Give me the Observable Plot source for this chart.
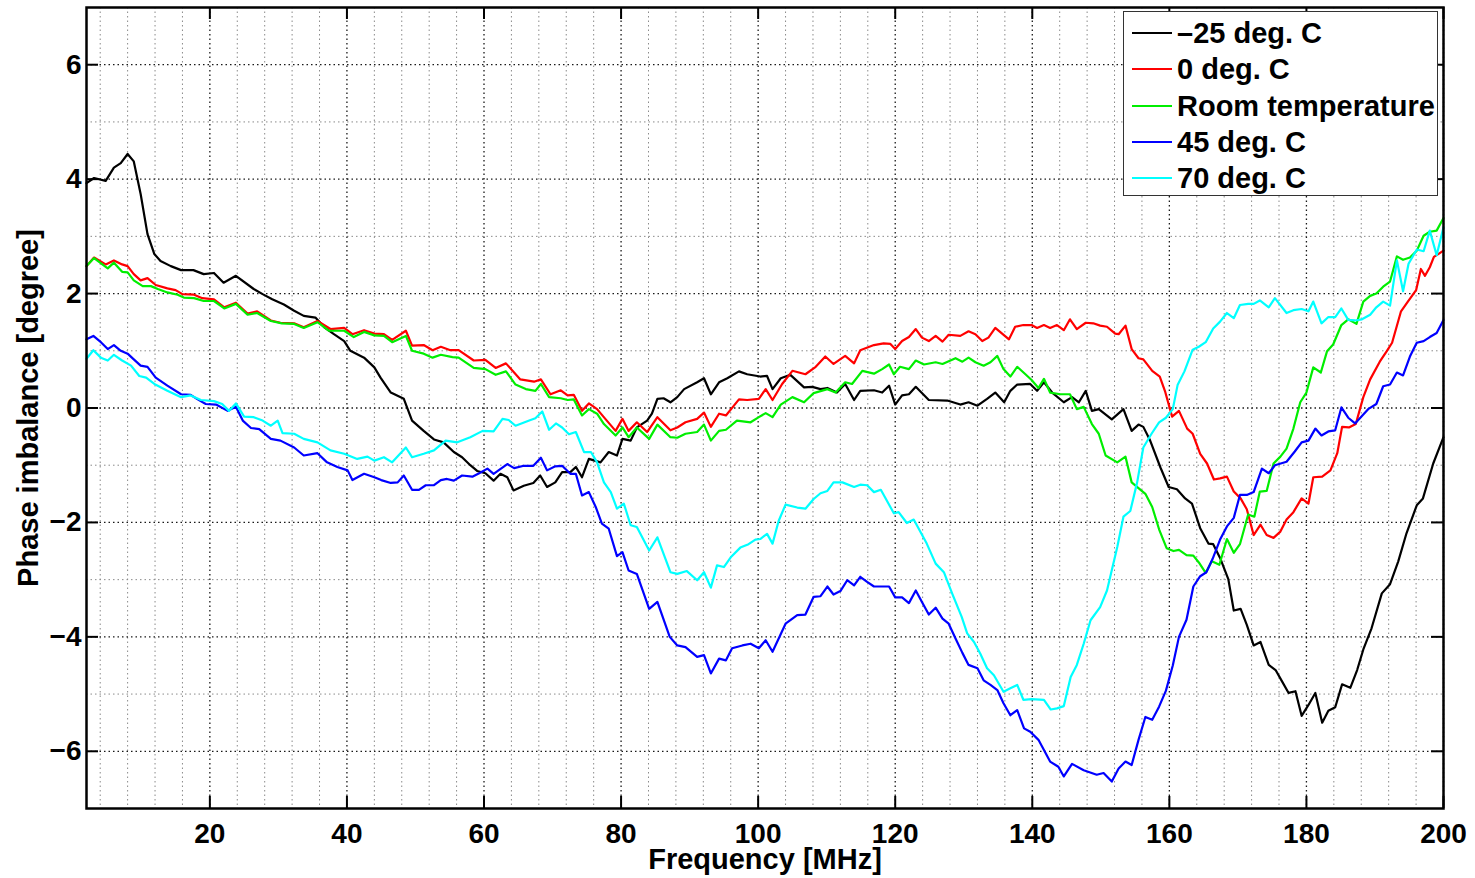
<!DOCTYPE html>
<html>
<head>
<meta charset="utf-8">
<script src="https://cdn.jsdelivr.net/npm/d3@7"></script>
<script src="https://cdn.jsdelivr.net/npm/@observablehq/plot@0.6"></script>
<style>
  body { margin: 0; background: #fff; }
  #wrap { position: relative; width: 1475px; height: 878px; }
  #legend {
    position: absolute; left: 1123px; top: 11px; width: 313px; height: 180px;
    padding-top: 3px; border: 1px solid #333; background: #fff;
    font: bold 29px "Liberation Sans", Arial, sans-serif; color: #000;
  }
  .row { display: flex; align-items: center; height: 36.3px; line-height: 36.3px; white-space: nowrap; }
  .swatch { margin-left: 8px; width: 40px; height: 0; border-top: 2px solid; margin-right: 5px; }
</style>
</head>
<body>
<div id="wrap"></div>
<script>
// ---- Data (frequency MHz, phase imbalance degree) ----
const seriesNames = ["–25 deg. C", "0 deg. C", "Room temperature", "45 deg. C", "70 deg. C"];
const seriesColors = ["#000000", "#ff0000", "#00ee00", "#0000ff", "#00ffff"];

const minus25 = [[2,3.93],[3.1,4.02],[4.8,3.97],[6,4.2],[7,4.28],[8,4.44],[8.9,4.31],[9.9,3.74],[10.9,3.04],[11.9,2.69],[12.8,2.57],[14.3,2.48],[15.8,2.41],[17.6,2.41],[19.1,2.34],[20.6,2.36],[22,2.19],[23.8,2.31],[26.4,2.08],[27.7,1.99],[29.1,1.9],[30.8,1.81],[32.3,1.7],[33.7,1.61],[35.4,1.58],[36.7,1.41],[38.1,1.29],[39.6,1.17],[40.5,1.0],[42.5,0.88],[44,0.71],[44.9,0.53],[46.4,0.27],[48.3,0.16],[49.5,-0.22],[51.2,-0.4],[52.7,-0.55],[54.1,-0.6],[55.6,-0.77],[56.8,-0.86],[58,-1.0],[59,-1.1],[60.2,-1.14],[61.4,-1.27],[62.4,-1.15],[63.4,-1.21],[64.3,-1.44],[65.8,-1.36],[67.2,-1.31],[68.2,-1.18],[69.2,-1.38],[70.4,-1.3],[71.4,-1.12],[72.6,-1.12],[73.4,-1.03],[74.3,-1.21],[75.3,-0.89],[77,-0.95],[78.2,-0.77],[79.4,-0.83],[80.2,-0.54],[81.4,-0.57],[82.3,-0.34],[83.8,-0.22],[84.5,-0.1],[85.3,0.16],[86.2,0.17],[87.2,0.1],[88.2,0.19],[89.2,0.33],[91.1,0.45],[92.1,0.52],[93.1,0.24],[94.3,0.45],[95.5,0.52],[97.2,0.64],[98.4,0.59],[100.3,0.55],[101.3,0.56],[102.1,0.33],[103.3,0.52],[104.7,0.58],[106.7,0.36],[107.9,0.37],[109.1,0.33],[110.1,0.35],[111.5,0.27],[112.7,0.42],[114,0.14],[114.9,0.3],[116.9,0.31],[118.1,0.27],[119.1,0.39],[120,0.06],[121,0.22],[122,0.24],[123,0.37],[124.9,0.14],[127.6,0.13],[129.5,0.06],[130.7,0.1],[132,0.04],[133.4,0.16],[134.6,0.27],[135.9,0.1],[136.8,0.3],[137.8,0.41],[139.7,0.42],[140.7,0.3],[141.7,0.45],[142.9,0.27],[144.6,0.1],[145.8,0.19],[146.8,0.1],[147.8,0.3],[148.7,-0.05],[149.7,-0.02],[151.6,-0.2],[153.3,-0.02],[154.5,-0.4],[155.5,-0.29],[156.2,-0.33],[157.2,-0.57],[158.7,-1.04],[159.9,-1.38],[161.1,-1.42],[162.3,-1.58],[163.3,-1.67],[164.5,-2.1],[165.7,-2.37],[166.4,-2.38],[167.4,-2.62],[168.6,-2.99],[169.4,-3.54],[170.4,-3.51],[171.3,-3.79],[172.3,-4.15],[173.3,-4.09],[174.5,-4.49],[175.5,-4.58],[176.4,-4.77],[177.4,-4.98],[178.4,-4.95],[179.3,-5.38],[180.3,-5.19],[181.3,-4.98],[182.3,-5.5],[183.2,-5.29],[184.2,-5.23],[185.2,-4.83],[186.4,-4.89],[187.4,-4.58],[188.3,-4.22],[189.5,-3.85],[191,-3.24],[192.2,-3.08],[193.4,-2.68],[194.6,-2.19],[196.1,-1.7],[197,-1.58],[198.5,-0.97],[200,-0.51]];

const zeroC = [[2,2.48],[3.1,2.63],[4.8,2.51],[6,2.58],[7.2,2.51],[8,2.48],[8.9,2.34],[9.9,2.23],[10.9,2.27],[12.1,2.15],[13.8,2.09],[15,2.06],[16,1.99],[17.7,1.98],[18.9,1.92],[20.6,1.9],[22.1,1.76],[23.8,1.84],[25.5,1.65],[26.9,1.69],[28.9,1.53],[30.3,1.49],[32.3,1.48],[33.7,1.41],[35.7,1.52],[37.6,1.38],[39.6,1.4],[40.8,1.29],[42.5,1.36],[44,1.3],[45.4,1.29],[46.6,1.19],[48.6,1.35],[49.5,1.09],[51.2,1.1],[52.5,1.01],[53.7,1.07],[55.1,1.01],[56.3,1.01],[58.5,0.83],[60.2,0.84],[61.7,0.7],[63.2,0.78],[65.3,0.5],[67.3,0.46],[68.3,0.5],[69.7,0.24],[71.2,0.31],[72.2,0.22],[73.1,0.23],[74.3,-0.05],[75.3,0.08],[76.5,-0.02],[77.7,-0.19],[79.2,-0.4],[80.2,-0.19],[81.1,-0.4],[82.3,-0.25],[83.8,-0.42],[85.3,-0.16],[87.2,-0.39],[88.2,-0.34],[89.4,-0.25],[91.1,-0.19],[92.1,-0.08],[93.1,-0.33],[94.3,-0.1],[95.3,-0.13],[97.2,0.15],[98.4,0.14],[100.1,0.16],[101.1,0.33],[102.1,0.14],[103.5,0.42],[105,0.65],[106.9,0.59],[108.4,0.72],[109.8,0.9],[111,0.77],[112.7,0.91],[114,0.78],[114.9,1.01],[116.9,1.1],[118.3,1.13],[119.3,1.12],[120,1.03],[121,1.17],[122,1.24],[123,1.38],[123.9,1.23],[124.9,1.17],[125.9,1.26],[126.9,1.16],[127.8,1.28],[129.5,1.26],[130.7,1.34],[131.7,1.29],[132.7,1.17],[133.6,1.23],[134.6,1.4],[135.6,1.3],[136.6,1.2],[137.5,1.42],[138.7,1.45],[139.9,1.45],[140.7,1.4],[141.7,1.45],[142.6,1.4],[143.6,1.45],[144.6,1.36],[145.5,1.55],[146.5,1.38],[147.8,1.49],[148.9,1.48],[149.9,1.44],[150.9,1.42],[152.1,1.3],[152.6,1.29],[153.6,1.44],[154.5,1.03],[155.5,0.87],[156.2,0.85],[157.5,0.65],[158.6,0.55],[159.4,0.28],[160.4,-0.15],[161.4,-0.05],[162.6,-0.36],[163.4,-0.45],[164.5,-0.8],[165.5,-0.97],[166.5,-1.25],[167.4,-1.23],[168.4,-1.2],[169.4,-1.46],[170.4,-1.58],[171.3,-1.77],[172.3,-2.22],[173.3,-2.04],[174.2,-2.22],[175.2,-2.27],[176.2,-2.16],[177.1,-1.95],[178.1,-1.82],[179.3,-1.58],[180.3,-1.67],[181,-1.21],[182.3,-1.2],[183.5,-1.09],[184.5,-0.79],[185.2,-0.33],[186.2,-0.34],[187.2,-0.28],[188.3,0.19],[189.3,0.5],[190.7,0.81],[191.7,0.99],[192.5,1.14],[193.8,1.69],[194.8,1.86],[196,2.06],[196.7,2.43],[197.3,2.31],[198,2.46],[198.6,2.64],[200,2.75]];

const roomTemp = [[2,2.48],[3.1,2.62],[5.1,2.44],[6,2.54],[7.2,2.38],[8,2.37],[8.9,2.23],[10.2,2.13],[11.4,2.13],[12.4,2.08],[13.8,2.02],[15.3,1.98],[16.2,1.93],[17.7,1.92],[19.1,1.87],[20.6,1.87],[22.1,1.74],[23.8,1.82],[25.5,1.63],[26.9,1.66],[28.9,1.52],[30.5,1.48],[32.3,1.47],[33.7,1.4],[35.7,1.5],[37.4,1.35],[39.6,1.35],[41,1.24],[42.5,1.33],[44,1.27],[45.4,1.26],[46.6,1.15],[48.6,1.26],[49.5,1.0],[51.2,0.95],[52.5,0.88],[53.7,0.93],[55.4,0.89],[56.3,0.88],[58.5,0.7],[60.2,0.68],[61.7,0.58],[63.2,0.64],[64.6,0.41],[66.1,0.33],[67.5,0.3],[68.3,0.42],[69.5,0.19],[71.2,0.17],[72.2,0.14],[73.1,0.15],[74.3,-0.13],[75.3,-0.02],[76.5,-0.1],[77.5,-0.28],[79.2,-0.48],[80.2,-0.34],[81.1,-0.51],[82.3,-0.34],[84.1,-0.54],[85.3,-0.29],[87.2,-0.51],[88.2,-0.52],[89.4,-0.45],[91.1,-0.42],[92.1,-0.29],[93.1,-0.57],[94.3,-0.4],[95.3,-0.38],[96.9,-0.22],[98.9,-0.25],[100.1,-0.16],[101.1,-0.09],[102.1,-0.16],[103.3,0.06],[105,0.19],[106.7,0.1],[108.1,0.26],[110.1,0.33],[111.3,0.27],[112.7,0.45],[113.7,0.42],[115.2,0.65],[116.9,0.6],[118.1,0.68],[119.1,0.76],[119.8,0.59],[120.7,0.72],[122,0.68],[123,0.83],[124.2,0.76],[125.9,0.8],[126.9,0.77],[128.8,0.87],[129.8,0.81],[130.7,0.88],[131.7,0.8],[132.9,0.74],[133.9,0.8],[134.9,0.91],[135.8,0.68],[136.8,0.55],[137.8,0.72],[139,0.59],[139.9,0.49],[140.9,0.35],[141.7,0.51],[142.6,0.27],[144.1,0.24],[145.5,0.24],[146.5,-0.02],[147.5,0.02],[148.7,-0.28],[149.7,-0.45],[150.7,-0.83],[152.4,-0.95],[153.6,-0.85],[154.5,-1.3],[155.8,-1.43],[156.5,-1.5],[157.5,-1.73],[158.5,-2.12],[159.6,-2.45],[160.6,-2.5],[161.4,-2.48],[162.5,-2.57],[163.5,-2.58],[164.3,-2.7],[165.3,-2.88],[166.2,-2.68],[167.3,-2.74],[168.4,-2.29],[169.4,-2.53],[170.3,-2.38],[171.5,-1.86],[172.4,-1.9],[173.2,-1.46],[174.2,-1.45],[175.2,-0.97],[176.2,-0.85],[177.1,-0.71],[178.1,-0.36],[179.1,0.1],[180,0.27],[181,0.71],[182.1,0.62],[183,0.99],[183.9,1.11],[185.1,1.45],[186.1,1.55],[187.3,1.47],[188.3,1.86],[189.3,1.96],[190.2,2.0],[191.2,2.12],[192.2,2.21],[193.2,2.65],[194.1,2.59],[195.1,2.63],[196.1,2.75],[197.1,3.01],[198,3.08],[199,3.1],[200,3.32]];

const deg45 = [[2,1.2],[3,1.26],[4.1,1.15],[5.1,1.03],[6,1.1],[7,1.0],[8,0.95],[8.9,0.85],[9.9,0.74],[10.9,0.72],[12.1,0.53],[13.8,0.39],[15.8,0.24],[17.2,0.23],[18.1,0.16],[19.4,0.07],[20.9,0.06],[22.6,-0.05],[23.8,0.02],[24.8,-0.22],[26,-0.35],[27.2,-0.37],[28.9,-0.54],[30.3,-0.57],[32.3,-0.69],[33.7,-0.83],[35.7,-0.79],[37.1,-0.95],[38.6,-1.03],[40.1,-1.09],[40.8,-1.26],[42.5,-1.15],[44,-1.21],[45,-1.26],[46.4,-1.31],[47.4,-1.3],[48.3,-1.18],[49.5,-1.43],[50.5,-1.43],[51.5,-1.35],[52.7,-1.35],[53.7,-1.26],[54.6,-1.24],[55.6,-1.27],[56.8,-1.18],[58.3,-1.2],[59.3,-1.14],[60.5,-1.06],[61.4,-1.15],[63.4,-0.98],[64.4,-1.05],[65.8,-1.01],[67.2,-1.01],[68.3,-0.87],[69.2,-1.09],[70.4,-1.02],[71.4,-1.01],[72.6,-1.15],[73.4,-1.15],[74.3,-1.53],[75.3,-1.47],[76.3,-1.73],[77.2,-2.02],[78.2,-2.11],[79.4,-2.59],[80.2,-2.52],[81.1,-2.84],[82.3,-2.9],[84.1,-3.51],[85.3,-3.39],[87.1,-4.0],[88.2,-4.15],[89.4,-4.18],[91.1,-4.35],[92.1,-4.32],[93.1,-4.64],[94.3,-4.38],[95.3,-4.41],[96.2,-4.2],[97.7,-4.15],[98.9,-4.12],[100.1,-4.2],[101.1,-4.06],[102.1,-4.26],[104,-3.77],[105.7,-3.62],[106.9,-3.61],[108.1,-3.3],[109.1,-3.29],[110.1,-3.12],[111,-3.26],[112,-3.2],[113,-3.01],[114,-3.1],[114.9,-2.95],[115.9,-3.04],[116.9,-3.12],[119.1,-3.12],[120,-3.31],[121,-3.31],[122,-3.41],[123,-3.19],[123.9,-3.39],[124.9,-3.61],[125.9,-3.49],[126.9,-3.68],[127.8,-3.77],[128.8,-4.03],[129.8,-4.28],[130.7,-4.49],[132,-4.55],[132.9,-4.76],[133.9,-4.84],[134.9,-4.93],[135.8,-5.16],[136.8,-5.37],[137.8,-5.28],[138.8,-5.6],[139.7,-5.66],[140.9,-5.8],[142.6,-6.18],[143.8,-6.27],[144.6,-6.44],[145.8,-6.22],[147.5,-6.33],[149.4,-6.41],[150.4,-6.38],[151.6,-6.53],[152.6,-6.3],[153.6,-6.18],[154.5,-6.24],[155.5,-5.8],[156.5,-5.4],[157.5,-5.45],[158.5,-5.22],[159.5,-4.94],[160.5,-4.5],[161.4,-4.0],[162.5,-3.7],[163.5,-3.12],[164.5,-2.94],[165.4,-2.87],[166.3,-2.64],[167.4,-2.3],[168.4,-2.07],[169.4,-1.92],[170.3,-1.52],[171.3,-1.52],[172.3,-1.47],[173.5,-1.06],[174.5,-1.14],[175.4,-1.0],[177.1,-0.94],[178.3,-0.76],[179.3,-0.6],[180.3,-0.57],[181.3,-0.36],[182.2,-0.48],[183.2,-0.41],[184.2,-0.39],[185.1,0.01],[186.1,-0.17],[187.1,-0.27],[188.1,-0.14],[189,-0.02],[190.2,0.07],[191.2,0.38],[192.2,0.41],[193.2,0.62],[194.1,0.57],[195.1,0.9],[196.1,1.14],[197.1,1.17],[198,1.24],[199,1.31],[200,1.54]];

const deg70 = [[2,0.86],[3,1.01],[4.1,0.88],[5.1,0.83],[6,0.93],[7.2,0.83],[8.5,0.74],[9.7,0.56],[10.7,0.53],[11.9,0.42],[13.8,0.3],[15.8,0.19],[17.2,0.22],[18.7,0.14],[20.6,0.12],[21.8,0.07],[22.8,-0.05],[23.8,0.08],[25,-0.15],[26.4,-0.16],[27.7,-0.22],[28.9,-0.31],[29.9,-0.22],[30.6,-0.44],[32.3,-0.45],[33.7,-0.54],[35.7,-0.6],[37.6,-0.74],[39.6,-0.8],[41.5,-0.89],[43,-0.85],[44,-0.92],[45.4,-0.86],[46.6,-0.95],[48.6,-0.69],[49.5,-0.86],[51.2,-0.8],[52.7,-0.74],[54.4,-0.57],[56.1,-0.6],[58,-0.51],[59.8,-0.4],[61.4,-0.41],[62.7,-0.19],[63.6,-0.21],[64.6,-0.31],[66.6,-0.22],[67.5,-0.18],[68.5,-0.06],[69.5,-0.38],[70.5,-0.27],[71.4,-0.34],[72.4,-0.46],[73.4,-0.42],[74.6,-0.77],[75.6,-0.77],[76.5,-0.95],[77.5,-1.3],[78.5,-1.47],[79.4,-1.76],[80.4,-1.67],[81.4,-2.05],[82.3,-2.08],[84.1,-2.49],[85.3,-2.26],[87.2,-2.87],[88.2,-2.9],[89.6,-2.85],[91.1,-3.01],[92.1,-2.87],[93.1,-3.14],[94,-2.75],[95,-2.78],[96,-2.61],[97.4,-2.44],[98.6,-2.38],[99.6,-2.3],[100.3,-2.29],[101.3,-2.2],[102.1,-2.37],[103,-1.97],[104,-1.69],[105.7,-1.74],[106.9,-1.76],[108.1,-1.59],[109.1,-1.49],[110.1,-1.45],[111,-1.3],[112.3,-1.3],[114,-1.38],[114.9,-1.34],[115.9,-1.35],[116.9,-1.47],[117.9,-1.43],[119.8,-1.84],[120.5,-1.82],[121.7,-2.01],[122.7,-1.95],[124.6,-2.37],[125.9,-2.72],[127.1,-2.87],[128.3,-3.24],[129.7,-3.65],[130.5,-3.94],[131.5,-4.09],[132.4,-4.29],[133.4,-4.55],[134.4,-4.67],[135.8,-4.96],[136.8,-4.9],[137.8,-4.84],[138.7,-5.1],[139.9,-5.09],[141.7,-5.1],[142.7,-5.27],[143.6,-5.25],[144.6,-5.21],[145.6,-4.7],[146.5,-4.49],[147.5,-4.12],[148.5,-3.71],[149.9,-3.48],[150.9,-3.19],[152.4,-2.43],[153.3,-1.9],[154.3,-1.8],[155.3,-1.3],[156.2,-0.69],[157.4,-0.45],[158.5,-0.25],[159.5,-0.17],[160.5,-0.02],[161.2,0.4],[162.2,0.64],[163.4,1.02],[164.3,1.07],[165.3,1.15],[166.4,1.39],[167.4,1.51],[168.4,1.66],[169.4,1.57],[170.3,1.8],[171.5,1.82],[172.3,1.82],[173.2,1.88],[174.5,1.76],[175.4,1.92],[177.1,1.66],[178.1,1.71],[179.3,1.73],[180.3,1.69],[181,1.86],[182.2,1.48],[183.2,1.59],[184.2,1.59],[185.1,1.74],[186.1,1.54],[187.1,1.53],[188.1,1.55],[189.3,1.63],[190.2,1.76],[191.2,1.86],[192.2,1.79],[193.2,2.58],[194.1,2.04],[194.9,2.52],[196.1,2.77],[197.1,2.74],[198,3.1],[199,2.67],[200,3.16]];

const seriesData = [minus25, zeroC, roomTemp, deg45, deg70];

// Tick values
const xMajor = [20, 40, 60, 80, 100, 120, 140, 160, 180, 200];
const xMinor = [4, 8, 12, 16, 24, 28, 32, 36, 44, 48, 52, 56, 64, 68, 72, 76, 84, 88, 92, 96, 104, 108, 112, 116, 124, 128, 132, 136, 144, 148, 152, 156, 164, 168, 172, 176, 184, 188, 192, 196];
const yMajor = [-6, -4, -2, 0, 2, 4, 6];
const yMinor = [-5, -3, -1, 1, 3, 5];
const xLabel = "Frequency [MHz]";
const yLabel = "Phase imbalance [degree]";

const W = 1475, H = 878, ML = 86, MR = 32, MT = 7, MB = 70;
const FW = W - ML - MR, FH = H - MT - MB, TICK = 12;
const font = '"Liberation Sans", Arial, sans-serif';
const fmt = d => (d < 0 ? "\u2212" + (-d) : String(d));

const lineMarks = seriesData.map((d, i) =>
  Plot.line(d, {x: p => p[0], y: p => p[1], stroke: seriesColors[i], strokeWidth: 2.2})
);

const chart = Plot.plot({
  width: W, height: H,
  marginLeft: ML, marginRight: MR, marginTop: MT, marginBottom: MB,
  x: {domain: [2, 200]},
  y: {domain: [-7, 7]},
  style: {fontFamily: font, fontWeight: "bold", fontSize: "28px", color: "#000", background: "#fff"},
  marks: [
    Plot.gridX(xMinor, {stroke: "#8a8a8a", strokeOpacity: 1, strokeWidth: 1, strokeDasharray: "1.5,3"}),
    Plot.gridY(yMinor, {stroke: "#8a8a8a", strokeOpacity: 1, strokeWidth: 1, strokeDasharray: "1.5,3"}),
    Plot.gridX(xMajor, {stroke: "#000", strokeOpacity: 0.9, strokeWidth: 1.3, strokeDasharray: "1.5,3"}),
    Plot.gridY(yMajor, {stroke: "#000", strokeOpacity: 0.9, strokeWidth: 1.3, strokeDasharray: "1.5,3"}),
    ...lineMarks,
    Plot.tickX(xMajor, {x: d => d, insetTop: FH - TICK, stroke: "#000", strokeWidth: 2}),
    Plot.tickX(xMajor, {x: d => d, insetBottom: FH - TICK, stroke: "#000", strokeWidth: 2}),
    Plot.tickY(yMajor, {y: d => d, insetRight: FW - TICK, stroke: "#000", strokeWidth: 2}),
    Plot.tickY(yMajor, {y: d => d, insetLeft: FW - TICK, stroke: "#000", strokeWidth: 2}),
    Plot.frame({stroke: "#000", strokeWidth: 2.5}),
    Plot.axisX(xMajor, {tickSize: 0, tickPadding: 15, label: null, tickFormat: fmt, fontSize: 28, fontWeight: "bold"}),
    Plot.axisY(yMajor, {tickSize: 0, tickPadding: 5, label: null, tickFormat: fmt, fontSize: 28, fontWeight: "bold"}),
    Plot.text([xLabel], {text: d => d, frameAnchor: "bottom", lineAnchor: "middle", textAnchor: "middle", dy: 51, fontSize: 29, fontWeight: "bold", fill: "#000"}),
    Plot.text([yLabel], {text: d => d, frameAnchor: "left", textAnchor: "middle", lineAnchor: "middle", dx: -58, rotate: -90, fontSize: 29, fontWeight: "bold", fill: "#000"})
  ]
});

const wrap = document.getElementById("wrap");
wrap.appendChild(chart);

// Legend (inside plot area, top-right)
const legend = document.createElement("div");
legend.id = "legend";
seriesNames.forEach((name, i) => {
  const row = document.createElement("div");
  row.className = "row";
  const sw = document.createElement("span");
  sw.className = "swatch";
  sw.style.borderTopColor = seriesColors[i];
  const t = document.createElement("span");
  t.textContent = name;
  row.appendChild(sw);
  row.appendChild(t);
  legend.appendChild(row);
});
wrap.appendChild(legend);
</script>
</body>
</html>
